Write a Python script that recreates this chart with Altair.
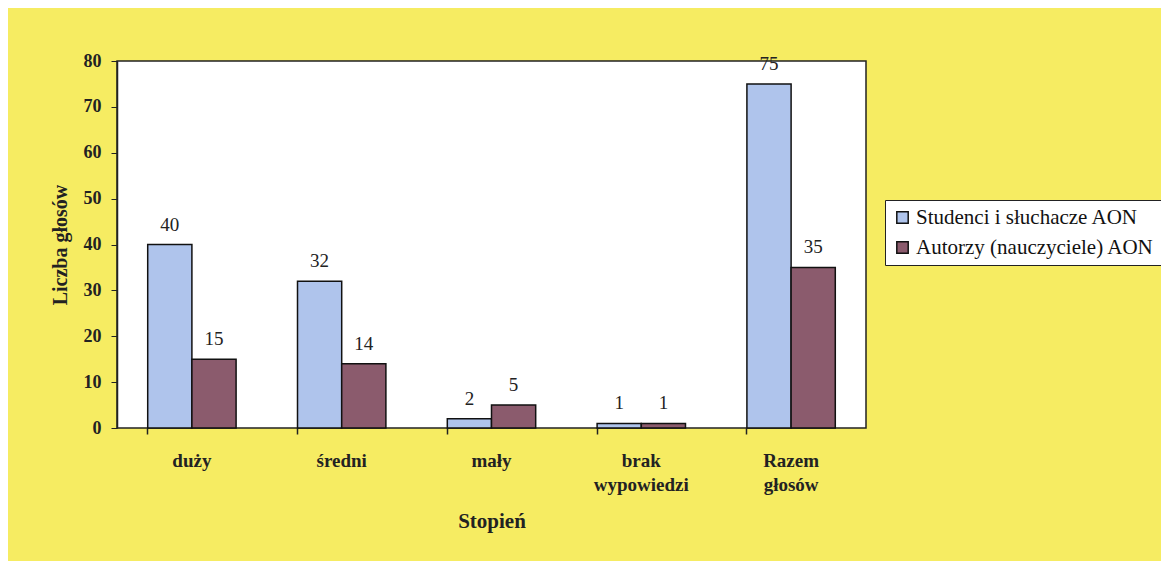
import altair as alt
import pandas as pd

categories = ["duży", "średni", "mały", "brak wypowiedzi", "Razem głosów"]
series = ["Studenci i słuchacze AON", "Autorzy (nauczyciele) AON"]
studenci = [40, 32, 2, 1, 75]
autorzy = [15, 14, 5, 1, 35]
colors = ["#AFC4EC", "#8B5B6D"]
y_ticks = [0, 10, 20, 30, 40, 50, 60, 70, 80]

rows = []
for c, s, a in zip(categories, studenci, autorzy):
    rows.append({"Stopień": c, "Seria": series[0], "Liczba": s})
    rows.append({"Stopień": c, "Seria": series[1], "Liczba": a})
df = pd.DataFrame(rows)

SERIF = "Times New Roman, Liberation Serif, serif"

xscale = alt.Scale(paddingInner=0.41, paddingOuter=0.205)
yenc = alt.Y(
    "Liczba:Q",
    scale=alt.Scale(domain=[0, 80], nice=False),
    axis=alt.Axis(
        values=y_ticks,
        grid=False,
        domainColor="#222",
        domainWidth=1.5,
        tickColor="#222",
        tickSize=6,
        labelFont=SERIF,
        labelFontWeight="bold",
        labelFontSize=18,
        labelColor="#222",
        labelPadding=10,
        title="Liczba głosów",
        titleFont=SERIF,
        titleFontWeight="bold",
        titleFontSize=20,
        titleColor="#222",
        titlePadding=13,
    ),
)
xoff = alt.XOffset("Seria:N", sort=series)

bars = alt.Chart(df).mark_bar(stroke="#111", strokeWidth=1.5).encode(
    x=alt.X(
        "Stopień:N",
        sort=categories,
        scale=xscale,
        axis=alt.Axis(
            orient="bottom",
            labels=False,
            title=None,
            domain=False,
            ticks=True,
            tickSize=6,
            tickColor="#222",
            tickWidth=1.5,
            bandPosition=0,
        ),
    ),
    xOffset=xoff,
    y=yenc,
    color=alt.Color(
        "Seria:N",
        sort=series,
        scale=alt.Scale(domain=series, range=colors),
        legend=alt.Legend(
            title=None,
            orient="none",
            legendX=768,
            legendY=139,
            fillColor="white",
            strokeColor="#222",
            padding=7,
            symbolType="square",
            symbolSize=130,
            symbolStrokeColor="#111",
            symbolStrokeWidth=1.5,
            labelFont=SERIF,
            labelFontSize=21,
            labelColor="#111",
            labelLimit=400,
            rowPadding=8,
            labelOffset=3,
        ),
    ),
)

labels = alt.Chart(df).mark_text(
    baseline="bottom", dy=-10, font=SERIF, fontSize=19, color="#222"
).encode(
    x=alt.X(
        "Stopień:N",
        sort=categories,
        scale=xscale,
        axis=alt.Axis(
            orient="bottom",
            labelExpr="split(datum.label, ' ')",
            labelAngle=0,
            ticks=False,
            domain=False,
            labelFont=SERIF,
            labelFontWeight="bold",
            labelFontSize=19,
            labelColor="#222",
            labelLineHeight=24,
            labelPadding=23,
            title="Stopień",
            titleFont=SERIF,
            titleFontWeight="bold",
            titleFontSize=21,
            titleColor="#222",
            titlePadding=16,
        ),
    ),
    xOffset=xoff,
    y=yenc,
    text="Liczba:Q",
)

chart = (
    alt.layer(bars, labels)
    .resolve_axis(x="independent")
    .properties(
        width=749,
        height=367,
        autosize=alt.AutoSizeParams(type="none"),
        padding={"left": 109, "top": 53, "right": 295, "bottom": 133},
    )
    .configure(background="#F6EC62")
    .configure_view(fill="white", stroke="#222", strokeWidth=1.5)
)

chart.save("out.html", embed_options={"renderer": "svg", "actions": False})
